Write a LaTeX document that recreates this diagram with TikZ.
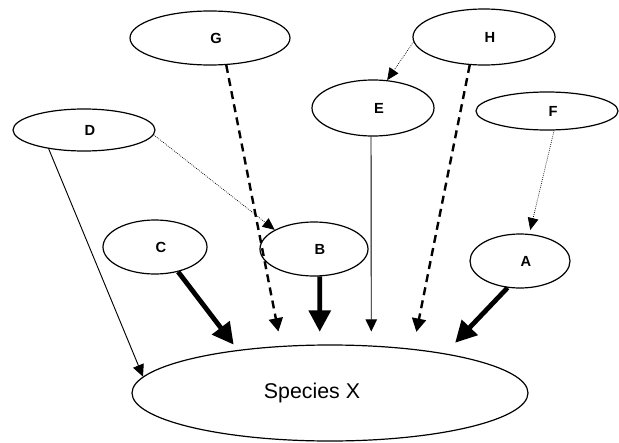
\documentclass[tikz,border=0pt]{standalone}
\usepackage{fontspec}
\setmainfont{Liberation Sans}
\usetikzlibrary{shapes.geometric,arrows.meta}

\begin{document}
\begin{tikzpicture}[x=0.75pt,y=-0.75pt,
  oval/.style={draw,ellipse,line width=0.9pt,inner sep=0pt},
  letter/.style={oval,font=\bfseries\fontsize{11}{13}\selectfont,execute at begin node={\hspace*{9pt}}},
  plainarrow/.style={line width=0.7pt,-{Triangle[length=9pt,width=8.5pt]}},
  dottedarrow/.style={line width=0.5pt,dash pattern=on 0.6pt off 0.9pt,-{Triangle[length=9pt,width=8pt]}},
  dashedarrow/.style={line width=1.8pt,dash pattern=on 6pt off 4pt,-{Triangle[length=10pt,width=10.5pt]}},
  heavyarrow/.style={line width=3.6pt,-{Triangle[length=16pt,width=16pt]}}]
\useasboundingbox (0,0) rectangle (619,443);

% upper row
\node[letter,minimum width=120pt,minimum height=40.5pt] (G) at (210,38) {G};
\node[letter,minimum width=106.5pt,minimum height=42pt] (H) at (484,37) {H};
\node[letter,minimum width=91.5pt,minimum height=42pt] (E) at (373,108) {E};
\node[letter,minimum width=106.5pt,minimum height=28.5pt] (F) at (547,111) {F};
\node[letter,minimum width=106.5pt,minimum height=31.5pt] (D) at (84,130) {D};

% lower row
\node[letter,minimum width=78pt,minimum height=40.5pt] (C) at (155,247) {C};
\node[letter,minimum width=81pt,minimum height=40.5pt] (B) at (314,249) {B};
\node[letter,minimum width=75pt,minimum height=40.5pt] (A) at (520,261) {A};

% target
\node[oval,minimum width=297pt,minimum height=72pt,
  label={[xshift=-13.5pt,font=\fontsize{16}{18}\selectfont]center:Species X}] (X) at (330,393) {};

% links
\draw[plainarrow] (D.208) -- (X.175);
\draw[dottedarrow] (D.356) -- (B.154);
\draw[dashedarrow,shorten >=11pt] (G.301) -- (X.136.5);
\draw[heavyarrow,shorten >=5pt] (C.313) -- (X.155);
\draw[heavyarrow,shorten >=9.5pt] (B.282) -- (X.102);
\draw[plainarrow,shorten >=10.5pt] (E.266) -- (X.49);
\draw[dottedarrow] (H.184) -- (E.63);
\draw[dashedarrow,shorten >=13pt] (H.243) -- (X.28);
\draw[dottedarrow,shorten >=3pt] (F.290) -- (A.71);
\draw[heavyarrow,shorten >=11pt] (A.245) -- (X.19);
\end{tikzpicture}
\end{document}
